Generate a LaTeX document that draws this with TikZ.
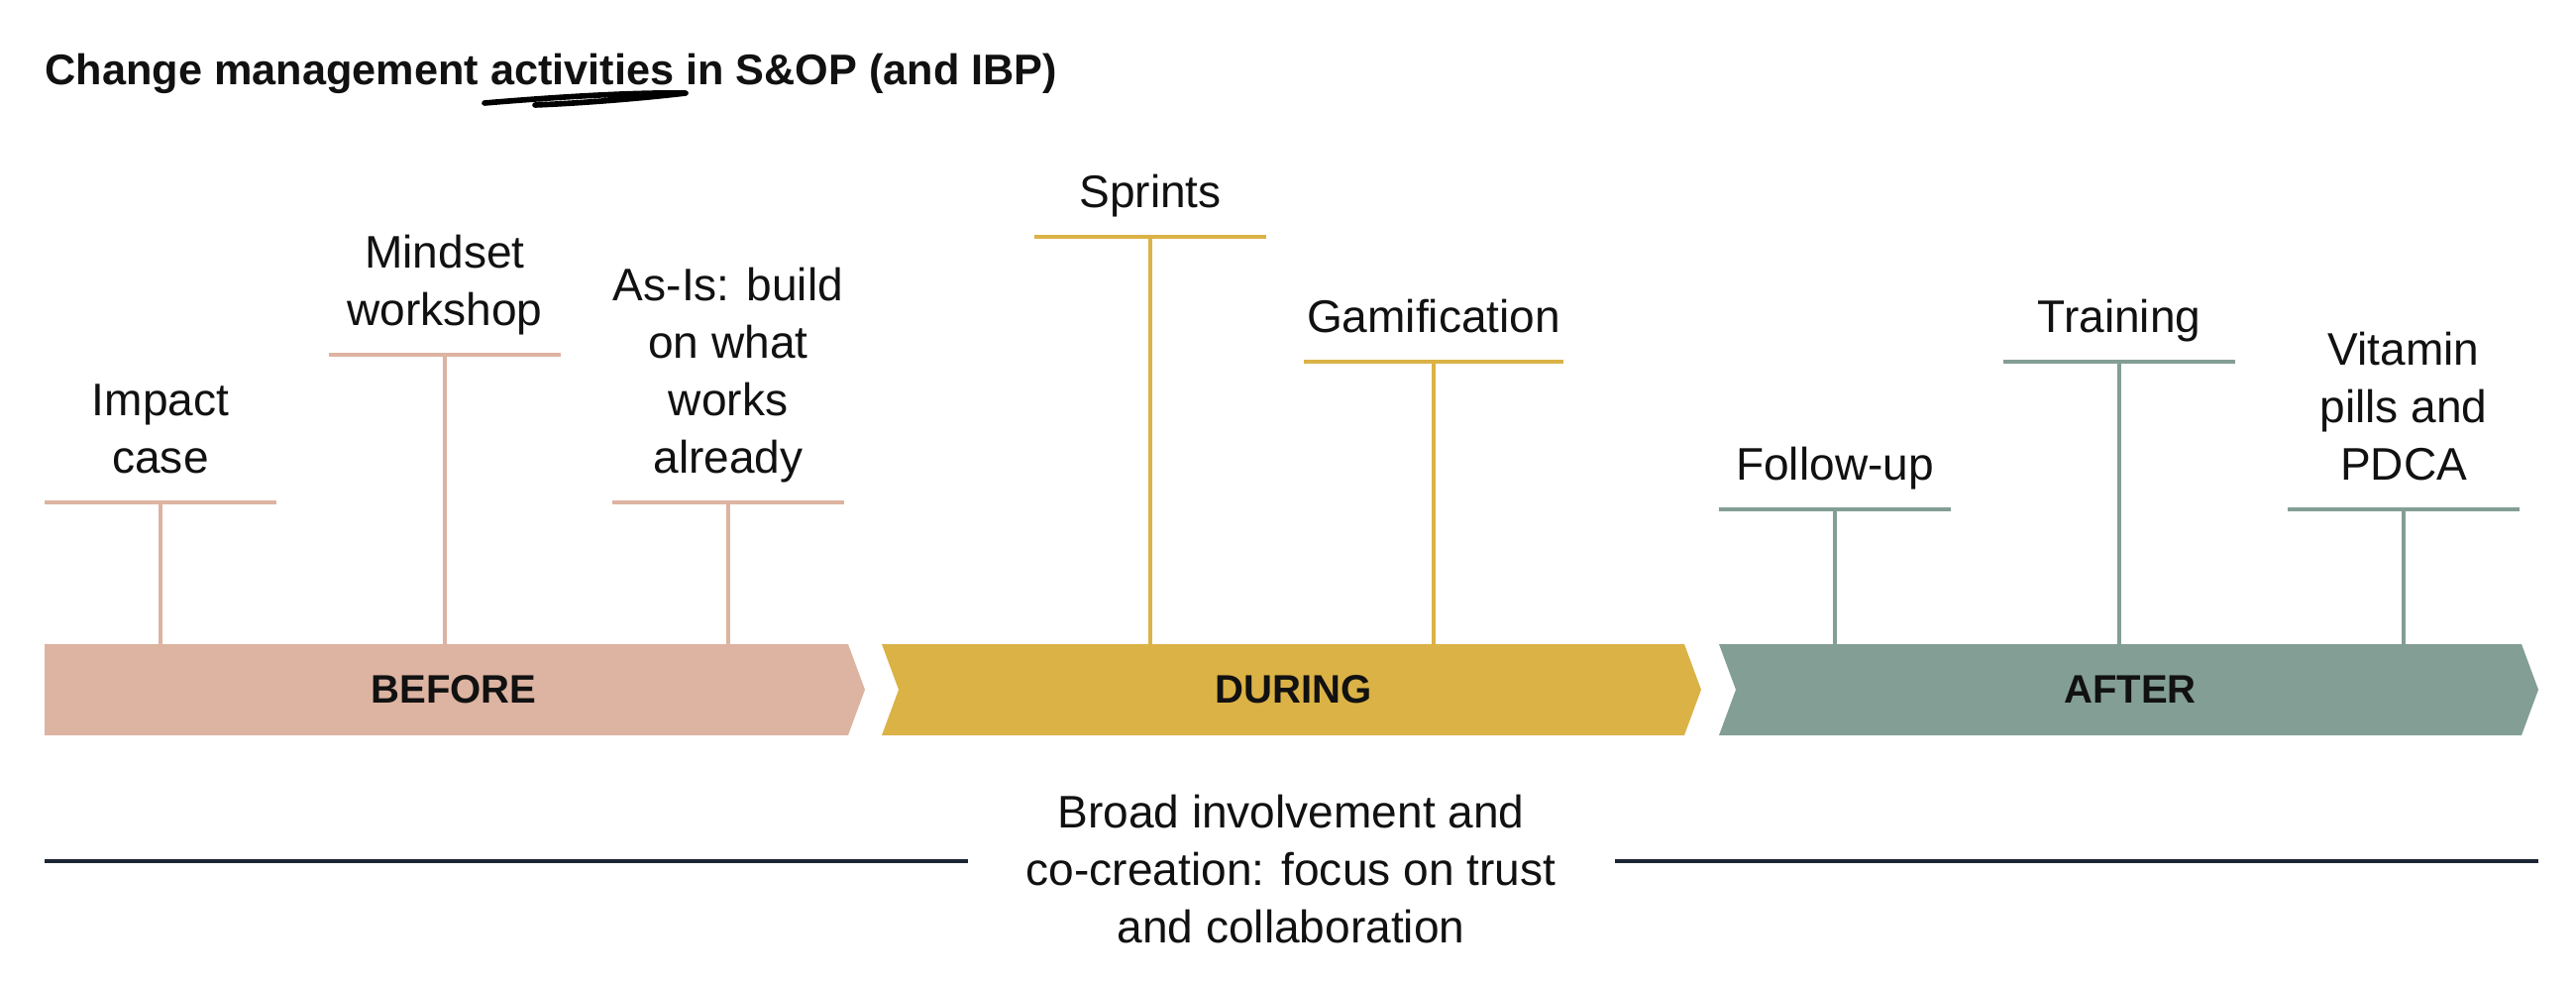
\documentclass[tikz,border=0pt]{standalone}
\usepackage{fontspec}
\setmainfont{Liberation Sans}
\usetikzlibrary{calc}
\definecolor{cbef}{HTML}{DDB3A1}
\definecolor{cdur}{HTML}{DBB246}
\definecolor{caft}{HTML}{839E95}
\definecolor{cline}{HTML}{1C2533}
\definecolor{ctext}{HTML}{111111}
\newcommand\actT[7]{% name, x, bar y, half width, colour, arrow-top coordinate, text
  \coordinate (#1) at (#2,#3);
  \draw[tee=#5] ($(#1)+(-#4,0)$) -- ($(#1)+(#4,0)$);
  \draw[tee=#5] (#1) -- (#1 |- #6);
  \node[lab] (#1-t) at ($(#1)+(0,-11)$) {#7\strut};
}
\begin{document}
\begin{tikzpicture}[x=0.01cm,y=-0.01cm,
  lab/.style={anchor=south, inner sep=0pt, align=center, text=ctext,
              font=\fontsize{13.1}{16.5}\selectfont},
  phase/.style={inner sep=0pt, text=ctext, font=\bfseries\fontsize{11.4}{14}\selectfont},
  tee/.style={draw=#1, line width=0.9pt},
  sepline/.style={draw=cline, line width=0.9pt}]
\useasboundingbox (0,0) rectangle (2600,994);

% title
\node[anchor=base west, inner sep=0pt, text=ctext, font=\bfseries\fontsize{12.3}{15}\selectfont]
  (title) at (45,86) {Change management activities in S\&OP (and IBP)};
\draw[line width=1.6pt, line cap=round, line join=round]
  (489,104) .. controls (560,98) and (640,93) .. (692,94)
  .. controls (650,99) and (590,104) .. (540,106);

% phase arrows
\path[fill=cbef] (45,650) -- (856,650) -- (873,696) -- (856,742) -- (45,742) -- cycle;
\path[fill=cdur] (890,650) -- (1700,650) -- (1717,696) -- (1700,742) -- (890,742) -- (907,696) -- cycle;
\path[fill=caft] (1735,650) -- (2545,650) -- (2562,696) -- (2545,742) -- (1735,742) -- (1752,696) -- cycle;
\node[phase] (before) at (458,696) {BEFORE};
\node[phase] (during) at (1306,696) {DURING};
\node[phase] (after) at (2150,696) {AFTER};
\coordinate (topB) at (458,650);
\coordinate (topD) at (1306,650);
\coordinate (topA) at (2150,650);

% activities
\actT{impact}{162}{507}{117}{cbef}{topB}{Impact\\case}
\actT{mindset}{449}{358}{117}{cbef}{topB}{Mindset\\workshop}
\actT{asis}{735}{507}{117}{cbef}{topB}{As-Is: build\\on what\\works\\already}
\actT{sprints}{1161}{239}{117}{cdur}{topD}{Sprints}
\actT{gami}{1447}{365}{131}{cdur}{topD}{Gamification}
\actT{follow}{1852}{514}{117}{caft}{topA}{Follow-up}
\actT{training}{2139}{365}{117}{caft}{topA}{Training}
\actT{vitamin}{2426}{514}{117}{caft}{topA}{Vitamin\\pills and\\PDCA}

% bottom
\node[inner sep=0pt, align=center, text=ctext, font=\fontsize{13.1}{16.5}\selectfont]
  (broad) at (1303,877) {Broad involvement and\\co-creation: focus on trust\\and collaboration};
\coordinate (l1) at (45,869);
\coordinate (l2) at (977,869);
\coordinate (r1) at (1630,869);
\coordinate (r2) at (2562,869);
\draw[sepline] (l1) -- (l2);
\draw[sepline] (r1) -- (r2);
\end{tikzpicture}
\end{document}
